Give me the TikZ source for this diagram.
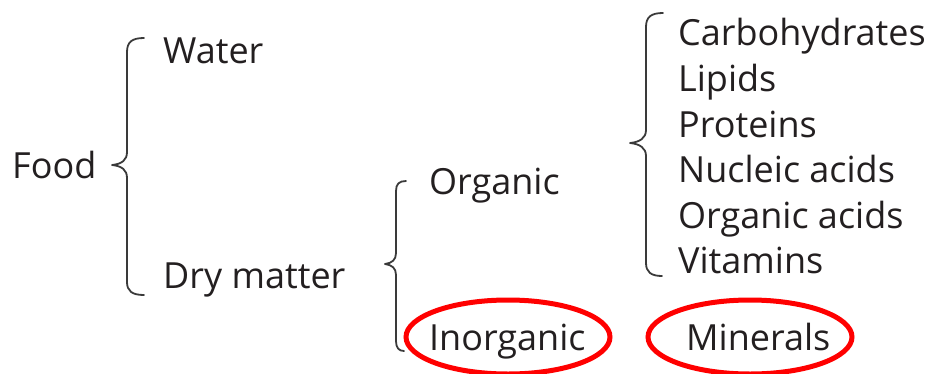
\documentclass[tikz,border=0pt]{standalone}
\usepackage{fontspec}
\setmainfont{Open Sans}
\definecolor{ink}{HTML}{231F20}
\definecolor{bracec}{HTML}{3A3A3A}
\begin{document}
\begin{tikzpicture}[x=1pt,y=-1pt,
  lbl/.style={anchor=base west,inner sep=0pt,text=ink,font=\fontsize{36}{40}\selectfont},
  bracepath/.style={draw=bracec,line width=1.8pt,line cap=round,line join=round},
  redring/.style={draw=red,line width=5pt}]
\useasboundingbox (0,0) rectangle (930,373);
% texts
\node[lbl] (food) at (12,178) {Food};
\node[lbl] (water) at (163,63) {Water};
\node[lbl] (dry) at (163,288) {Dry matter};
\node[lbl] (org) at (429,194) {Organic};
\node[lbl] (inorg) at (429,350) {Inorganic};
\node[lbl] (carb) at (678,45) {Carbohydrates};
\node[lbl] (lip) at (678,91) {Lipids};
\node[lbl] (prot) at (678,137) {Proteins};
\node[lbl] (nuc) at (678,182) {Nucleic acids};
\node[lbl] (oac) at (678,228) {Organic acids};
\node[lbl] (vit) at (678,273) {Vitamins};
\node[lbl] (min) at (686,350) {Minerals};
% braces
\draw[bracepath] (144,38) .. controls (132,38) and (127,42) .. (127,52)
  -- (127,152) .. controls (127,160) and (122,164) .. (112,165)
  .. controls (122,166) and (127,170) .. (127,178)
  -- (127,282) .. controls (127,291) and (132,295) .. (144,295);
\draw[bracepath] (406,181) .. controls (399,181) and (396,184) .. (396,191)
  -- (396,253) .. controls (396,260) and (392,263) .. (385,264)
  .. controls (392,265) and (396,268) .. (396,275)
  -- (396,341) .. controls (396,348) and (399,351) .. (404,351);
\draw[bracepath] (663,13) .. controls (651,13) and (646,17) .. (646,27)
  -- (646,130) .. controls (646,138) and (640,142) .. (630,143)
  .. controls (640,144) and (646,148) .. (646,156)
  -- (646,263) .. controls (646,272) and (651,276) .. (662,276);
% red ellipses
\draw[redring] (508,337) ellipse [x radius=102, y radius=37];
\draw[redring] (750,337) ellipse [x radius=102, y radius=37];
\end{tikzpicture}
\end{document}
